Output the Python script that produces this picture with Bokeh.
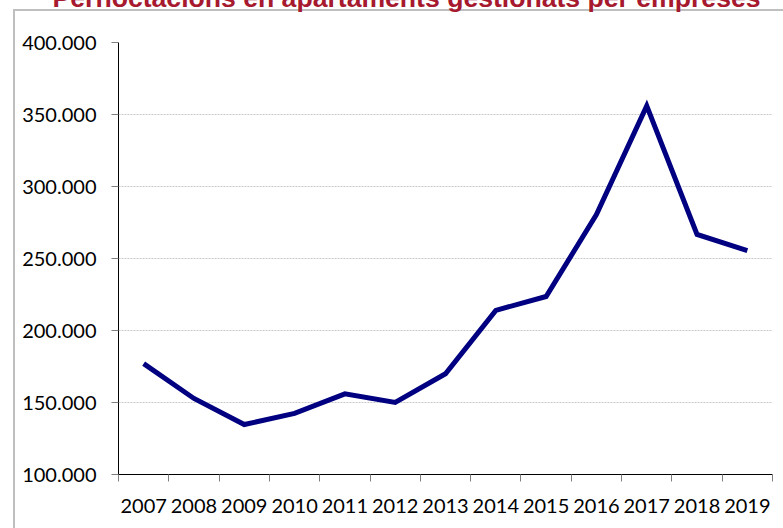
from bokeh.plotting import figure
from bokeh.models import FixedTicker, Range1d, Title
from bokeh.embed import file_html
from bokeh.resources import INLINE

# ---- data ----
years = [2007, 2008, 2009, 2010, 2011, 2012, 2013, 2014, 2015, 2016, 2017, 2018, 2019]
values = [177000, 152800, 134700, 142400, 156000, 150000, 170000,
          214000, 223600, 280500, 356000, 266700, 255500]
year_labels = [str(y) for y in years]
y_ticks = [100000, 150000, 200000, 250000, 300000, 350000, 400000]
y_labels = ["100.000", "150.000", "200.000", "250.000", "300.000", "350.000", "400.000"]
title_text = "Pernoctacions en apartaments gestionats per empreses"

boundaries = [y - 0.5 for y in years] + [years[-1] + 0.5]

SHIFT = 50  # canvas extends above the window so the title is cut like the reference

p = figure(width=783, height=528 + SHIFT, output_backend="svg", toolbar_location=None,
           x_range=Range1d(years[0] - 0.5, years[-1] + 0.5),
           y_range=Range1d(y_ticks[0], y_ticks[-1]),
           min_border=0, min_border_left=118, min_border_right=11,
           min_border_top=42 + SHIFT, min_border_bottom=54)
p.styles = {
    "margin-top": f"-{SHIFT}px",
    "background": ("linear-gradient(#bfbfbf,#bfbfbf) 13px %dpx / 2px 100%% no-repeat, "
                   "linear-gradient(#bfbfbf,#bfbfbf) 13px %dpx / 100%% 2px no-repeat, #ffffff")
                  % (9 + SHIFT, 9 + SHIFT),
}
p.outline_line_color = None
p.background_fill_color = None
p.border_fill_color = None

# title
p.add_layout(Title(text=title_text, text_font="Liberation Sans", text_font_style="bold",
                   text_font_size="26.6px", text_color="#A6192E",
                   align="right", offset=12, vertical_align="bottom", standoff=58.8),
             "above")

# y axis
p.yaxis.ticker = FixedTicker(ticks=y_ticks)
p.yaxis.major_label_overrides = dict(zip(y_ticks, y_labels))
p.yaxis.major_label_text_font = "Lato"
p.yaxis.major_label_text_font_size = "20px"
p.yaxis.major_label_text_color = "black"
p.yaxis.major_tick_out = 7
p.yaxis.major_tick_in = 0
p.yaxis.major_tick_line_color = "#7f7f7f"
p.yaxis.minor_tick_line_color = None
p.yaxis.axis_line_color = "black"
p.yaxis.major_label_standoff = 15

# x axis
p.xaxis.ticker = FixedTicker(ticks=years, minor_ticks=boundaries)
p.xaxis.major_label_overrides = dict(zip(years, year_labels))
p.xaxis.major_label_text_font = "Lato"
p.xaxis.major_label_text_font_size = "20px"
p.xaxis.major_label_text_color = "black"
p.xaxis.major_tick_line_color = None
p.xaxis.major_tick_out = 0
p.xaxis.major_tick_in = 0
p.xaxis.minor_tick_out = 7
p.xaxis.minor_tick_in = 0
p.xaxis.minor_tick_line_color = "#7f7f7f"
p.xaxis.axis_line_color = "black"
p.xaxis.major_label_standoff = 17

# grid
p.xgrid.visible = False
p.ygrid.ticker = FixedTicker(ticks=y_ticks)
p.ygrid.grid_line_color = "#c8c8c8"
p.ygrid.grid_line_dash = "2 1"

p.line(years, values, line_color="#000080", line_width=5, line_join="miter")

open("out.html", "w").write(file_html(p, INLINE))
